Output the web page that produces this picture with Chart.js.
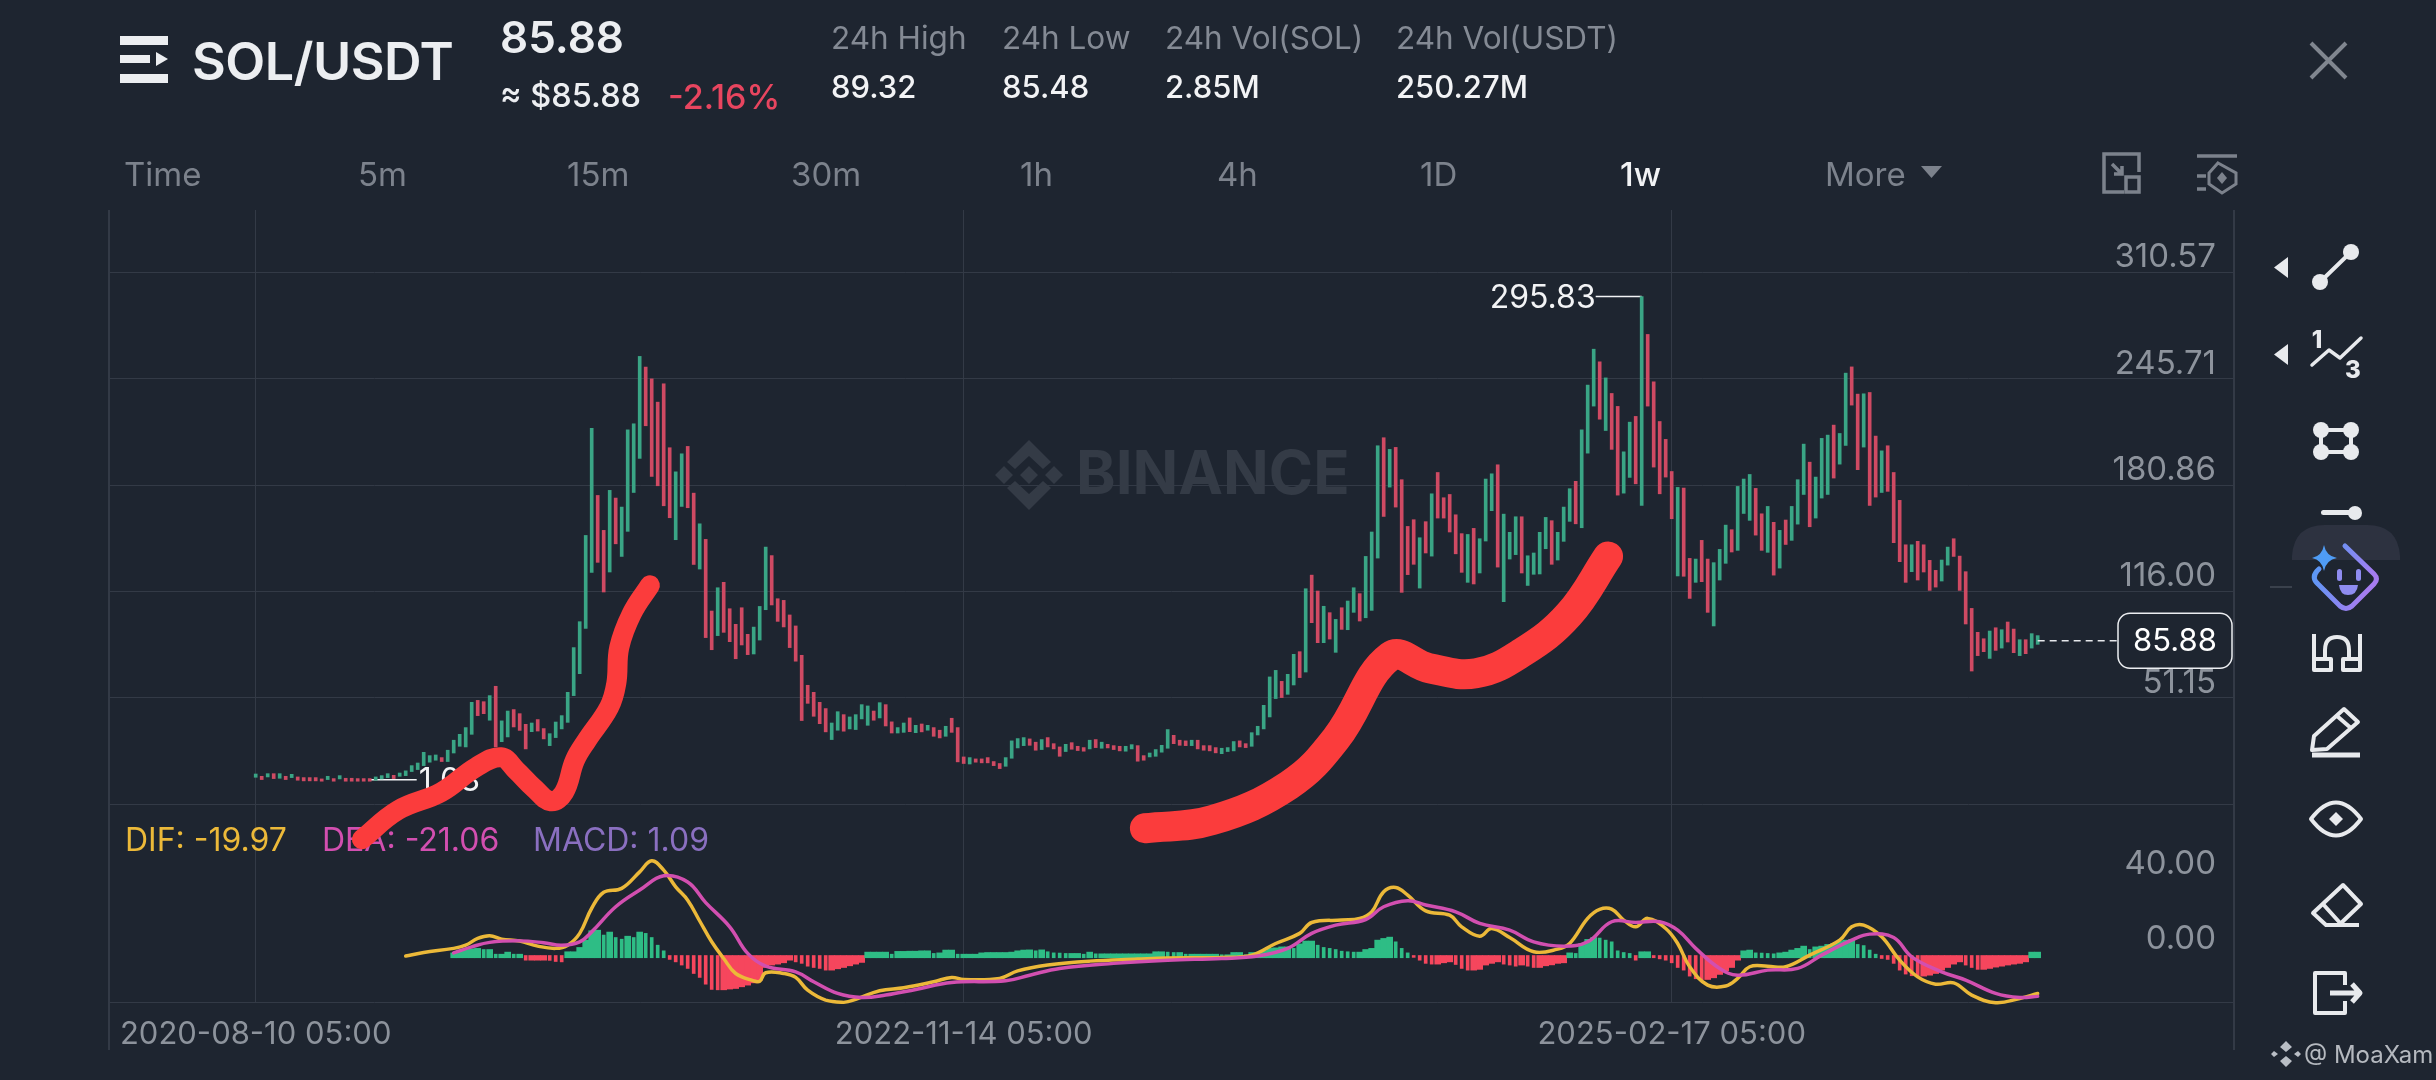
<!DOCTYPE html>
<html>
<head>
<meta charset="utf-8">
<title>SOL/USDT</title>
<script src="https://cdn.jsdelivr.net/npm/chart.js@4/dist/chart.umd.min.js"></script>
<style>
html, body { margin: 0; padding: 0; background: #1e2530; }
#page { position: relative; width: 2436px; height: 1080px; overflow: hidden; background: #1e2530; font-family: Inter, sans-serif; }
#chart { position: absolute; left: 0; top: 0; }
#tools { position: absolute; left: 0; top: 0; }
.t { position: absolute; white-space: nowrap; transform: translateY(-50%); line-height: 1; }
.grey { color: #848a94; font-size: 31.5px; }
.val { color: #f2f3f5; font-size: 31px; font-weight: 500; }
.tab { color: #7c828c; font-size: 33px; top: 174px; }
</style>
</head>
<body>
<div id="page">
  <canvas id="chart" width="2436" height="1080"></canvas>

  <div class="t" style="left:192px;top:62px;font-size:52px;font-weight:600;color:#eceef1;letter-spacing:-0.5px">SOL/USDT</div>
  <div class="t" style="left:500px;top:37px;font-size:44px;font-weight:600;color:#eceef1">85.88</div>
  <div class="t" style="left:500px;top:96px;font-size:32.5px;font-weight:500;color:#eceef1">≈ $85.88</div>
  <div class="t" style="left:668px;top:97px;font-size:34px;font-weight:500;color:#e8455f">-2.16%</div>

  <div class="t grey" style="left:831px;top:38px">24h High</div>
  <div class="t val" style="left:831px;top:86px">89.32</div>
  <div class="t grey" style="left:1002px;top:38px">24h Low</div>
  <div class="t val" style="left:1002px;top:86px">85.48</div>
  <div class="t grey" style="left:1165px;top:38px">24h Vol(SOL)</div>
  <div class="t val" style="left:1165px;top:86px">2.85M</div>
  <div class="t grey" style="left:1396px;top:38px">24h Vol(USDT)</div>
  <div class="t val" style="left:1396px;top:86px">250.27M</div>

  <div class="t tab" style="left:124px">Time</div>
  <div class="t tab" style="left:358px">5m</div>
  <div class="t tab" style="left:567px">15m</div>
  <div class="t tab" style="left:791px">30m</div>
  <div class="t tab" style="left:1020px">1h</div>
  <div class="t tab" style="left:1217px">4h</div>
  <div class="t tab" style="left:1420px">1D</div>
  <div class="t tab" style="left:1620px;color:#f2f3f5;font-weight:500">1w</div>
  <div class="t tab" style="left:1825px">More</div>

  <svg id="tools" width="2436" height="1080" viewBox="0 0 2436 1080" fill="none">
    <!-- header -->
    <g fill="#eceef1">
      <rect x="120" y="36" width="48" height="9"/>
      <rect x="120" y="55" width="30" height="8"/>
      <path d="M156 52 L168 59 L156 66 Z"/>
      <rect x="120" y="74" width="48" height="9"/>
    </g>
    <path d="M2311 43 L2346 78 M2346 43 L2311 78" stroke="#80868f" stroke-width="4"/>
    <path d="M1921 166 H1942 L1931.5 178 Z" fill="#7c828c"/>
    <g stroke="#7c828c" stroke-width="3.5">
      <path d="M2124 192 H2104 V154 H2139 V172"/>
      <rect x="2126" y="177" width="13" height="15"/>
      <path d="M2112 164 L2122 174 M2122 166 V174 H2114"/>
      <path d="M2197 156 H2237"/>
      <path d="M2218 163 L2236 173 V184 L2222 193 L2209 184 V173 Z" stroke-width="3"/>
      <path d="M2197 176 H2206 M2197 189 H2206"/>
    </g>
    <path d="M2222 172 L2227 178 L2222 184 L2217 178 Z" fill="#7c828c"/>

    <!-- drawing toolbar -->
    <g fill="#e8eaed">
      <path d="M2288 257 V278 L2274 267.5 Z"/>
      <path d="M2288 344 V365 L2274 354.5 Z"/>
      <circle cx="2320" cy="282" r="8"/><circle cx="2351" cy="252" r="8"/>
      <circle cx="2321" cy="430" r="8"/><circle cx="2351" cy="430" r="8"/>
      <circle cx="2321" cy="452" r="8"/><circle cx="2351" cy="452" r="8"/>
      <circle cx="2355" cy="513" r="7"/>
      <rect x="2321" y="510" width="34" height="5" rx="2.5"/>
    </g>
    <g stroke="#e8eaed" stroke-width="4" stroke-linecap="round" stroke-linejoin="round">
      <path d="M2320 282 L2351 252"/>
      <path d="M2321 430 H2351 V452 H2321 Z"/>
      <path d="M2312 365 L2329 350 L2340 358 L2361 338" stroke-width="3.5"/>
    </g>
    <text x="2317" y="348" fill="#e8eaed" font-family="Inter" font-size="24" font-weight="800" text-anchor="middle">1</text>
    <text x="2353" y="378" fill="#e8eaed" font-family="Inter" font-size="24" font-weight="800" text-anchor="middle">3</text>

    <path d="M2292 560 V556 Q2294 525 2325 525 H2367 Q2398 525 2400 556 V560 Z" fill="#2d3240"/>
    <path d="M2270 587 H2292" stroke="#3a414c" stroke-width="2"/>
    <defs>
      <linearGradient id="ai" x1="0" y1="0" x2="1" y2="0.4">
        <stop offset="0" stop-color="#4f9cf5"/>
        <stop offset="1" stop-color="#a77cf0"/>
      </linearGradient>
    </defs>
    <path d="M2345 546 L2374 574 Q2379 579 2374 584 L2352 606 Q2346 611 2340 606 L2318 584 Q2311 578 2317 571 L2319 569" stroke="url(#ai)" stroke-width="5" stroke-linecap="round"/>
    <path d="M2324 545 Q2326 556 2337 558 Q2326 560 2324 571 Q2322 560 2312 558 Q2322 556 2324 545 Z" fill="#4f9cf5"/>
    <rect x="2337" y="569" width="5" height="12" rx="2.5" fill="#8f8cf0"/>
    <rect x="2356" y="569" width="5" height="12" rx="2.5" fill="#8f8cf0"/>
    <path d="M2339 585 H2358 Q2357 595 2348 595 Q2340 595 2339 585 Z" fill="#8f8cf0"/>

    <g stroke="#e8eaed" stroke-width="4" stroke-linejoin="round">
      <path d="M2314 634 V670 H2331 V659 H2314 M2360 634 V670 H2343 V659 H2360"/>
      <path d="M2325 659 V650 Q2325 637 2337 637 Q2349 637 2349 650 V659"/>
      <path d="M2344 709 L2358 722 L2327 749 L2312 750 L2314 736 Z"/>
      <path d="M2337 716 L2352 729"/>
      <path d="M2312 755 H2360" stroke-width="5"/>
      <path d="M2311 819 Q2336 786 2361 819 Q2336 852 2311 819 Z"/>
      <path d="M2343 885 L2361 904 L2339 925 H2326 L2313 913 Z"/>
      <path d="M2322 903 L2341 924 M2339 925 H2359"/>
      <path d="M2345 985 V973 H2315 V1013 H2345 V1001"/>
      <path d="M2330 993 H2359 M2352 984 L2360 993 L2352 1002" stroke-width="5"/>
    </g>
    <path d="M2336 812 L2343 819 L2336 826 L2329 819 Z" fill="#e8eaed"/>

    <!-- watermark -->
    <g fill="#b9bec5">
      <path d="M2286 1041 L2292 1047 L2286 1052 L2280 1047 Z M2286 1056 L2292 1061 L2286 1067 L2280 1061 Z M2274 1051 L2278 1054 L2274 1057 L2271 1054 Z M2298 1051 L2301 1054 L2298 1057 L2294 1054 Z"/>
    </g>
    <text x="2304" y="1063" fill="#b5b9bf" font-family="Inter" font-size="24">@ MoaXam</text>
  </svg>
</div>

<script>
// weekly SOL/USDT, one entry per bar, first bar is 2020-08-10
const opens = [
  2.6,3.2,2.8,4.8,2.0,3.2,2.4,2.8,2.4,2.4,
  2.4,1.6,1.2,1.8,1.6,2.0,2.0,1.8,1.8,1.8,
  0.8,1.6,2.4,3.8,3.2,3.6,6.1,7.3,9.7,11.8,
  13.0,14.6,12.2,17.4,21.5,21.1,28.8,49.5,48.7,37.4,
  58.1,24.3,27.2,43.9,41.4,34.9,30.4,37.8,32.3,21.9,
  26.8,32.1,36.1,52.4,65.8,93.4,127.6,174.5,153.2,127.8,
  172.9,137.3,152.6,176.3,197.1,252.8,245.6,231.4,242.6,203.6,
  147.5,167.8,204.4,175.9,129.6,147.7,104.0,89.0,121.5,105.4,
  95.9,106.0,89.8,77.8,86.3,104.8,137.8,111.5,110.5,101.6,
  94.9,77.0,58.7,54.4,48.3,44.5,25.6,31.3,40.8,32.1,
  31.7,38.2,34.3,43.0,38.8,46.9,36.4,29.6,30.0,38.8,
  29.8,35.1,31.3,32.9,31.3,27.6,38.6,32.9,15.0,10.7,
  13.8,13.8,14.6,12.2,11.0,9.3,14.2,20.5,21.9,26.0,
  24.0,19.5,26.8,23.1,21.1,18.3,23.7,21.5,20.7,19.9,
  25.6,20.3,22.7,21.9,21.5,18.5,19.9,21.9,15.8,15.0,
  15.4,17.9,20.3,28.2,25.2,24.8,21.9,25.2,21.9,21.9,
  20.7,17.0,18.3,18.7,24.8,23.1,21.5,28.4,32.1,39.4,
  50.6,61.1,53.2,58.9,79.2,66.8,125.9,116.2,84.7,103.0,
  78.8,106.0,92.6,103.2,114.6,99.9,104.4,136.3,209.7,179.6,
  203.8,184.1,155.6,159.7,118.0,158.5,137.5,188.5,173.1,175.1,
  162.7,151.2,121.5,154.4,127.2,146.7,165.2,193.2,109.7,135.7,
  138.4,161.5,119.6,126.4,126.6,142.0,159.1,135.1,146.5,158.7,
  183.1,154.8,200.3,229.0,256.0,214.1,236.7,228.8,175.9,185.5,
  222.7,168.4,272.7,243.8,219.6,208.7,189.1,125.4,179.0,136.1,
  121.5,147.1,135.7,94.9,122.9,133.1,153.6,141.0,163.5,159.3,
  178.8,163.3,139.8,158.1,130.2,159.5,147.1,157.0,175.1,194.8,
  160.7,172.9,175.1,217.4,193.6,205.0,252.9,236.3,204.0,237.3,
  210.7,176.3,204.8,188.5,171.5,144.4,128.0,146.5,144.4,134.9,
  128.8,122.3,132.0,148.1,137.5,128.0,105.6,91.0,87.1,75.1,
  93.8,81.4,97.3,93.0,76.8,86.5,81.4,83.7
];
const closes = [
  4.6,1.2,4.8,1.8,4.8,1.2,4.4,0.8,0.4,0.4,
  0.4,0.2,3.2,0.2,3.6,0.2,0.2,0.2,0.2,0.2,
  2.8,3.6,4.8,1.8,5.2,6.5,9.7,11.3,17.8,15.8,
  16.2,12.2,19.1,25.2,28.8,32.9,48.3,40.2,41.4,52.4,
  21.1,37.0,43.0,33.3,31.2,19.9,35.7,30.8,26.0,29.2,
  36.3,40.2,54.4,81.7,97.5,150.1,215.4,133.7,115.6,177.6,
  145.0,167.4,214.5,218.2,259.3,217.0,186.1,180.4,168.2,160.9,
  188.9,199.9,167.0,132.4,157.2,87.8,80.4,118.2,91.0,85.3,
  74.9,83.3,77.4,94.2,106.8,143.0,107.7,97.7,94.3,81.7,
  73.4,37.2,47.7,39.8,35.3,30.3,35.7,42.6,30.7,39.4,
  40.8,46.9,46.1,37.4,48.1,33.9,29.6,32.9,35.7,30.4,
  34.3,30.3,34.3,27.6,26.6,33.7,30.0,12.0,11.0,14.6,
  11.8,11.4,11.4,9.7,7.9,14.6,24.8,26.2,26.8,22.1,
  19.1,25.6,21.1,19.9,15.4,22.7,19.7,18.9,18.5,25.2,
  20.7,24.0,20.5,19.5,18.7,21.5,22.5,12.4,13.0,17.4,
  19.5,22.1,31.7,23.1,22.1,21.9,25.2,19.9,19.1,18.7,
  17.5,20.3,20.7,24.4,21.1,20.7,29.8,33.7,46.5,63.8,
  67.8,51.2,65.4,77.6,63.4,117.6,96.9,84.7,106.9,86.9,
  98.9,92.8,110.1,118.2,97.9,137.3,152.2,204.8,161.7,202.6,
  167.4,115.4,126.2,132.5,148.7,139.4,175.5,160.7,160.7,152.2,
  138.9,127.6,150.7,120.5,148.1,184.5,187.7,130.8,163.1,152.0,
  161.5,127.2,137.7,139.4,152.0,161.1,132.5,152.0,167.4,178.6,
  157.2,214.5,241.8,263.7,221.0,246.2,202.6,174.7,201.1,219.2,
  181.6,295.83,229.0,191.8,175.5,185.7,160.3,179.4,125.2,111.7,
  135.7,121.9,103.2,133.5,141.6,156.4,140.0,180.0,184.5,187.3,
  150.3,141.0,167.8,125.9,153.2,144.6,167.8,184.1,205.8,155.4,
  185.7,209.3,211.3,185.1,212.3,249.1,229.6,190.2,236.5,168.4,
  173.5,201.7,177.0,145.7,134.1,121.5,144.4,122.9,127.8,116.6,
  118.6,135.1,143.0,137.3,116.6,96.1,67.4,76.8,79.2,91.8,
  80.0,92.6,85.1,78.6,86.5,78.0,90.2,89.0
];

// MACD histogram, starts at bar 33
const macdStart = 33;
const macdHist = [
  1.2,2.7,3.0,3.4,3.6,3.0,3.0,
  .5,.5,1.6,.5,.5,-2.7,-2.7,-2.7,-2.7,-2.8,-3.4,-3.6,
  1.8,1.8,4.1,8.0,13.0,13.3,10.7,12.3,9.4,8.5,10.1,9.4,12.3,11.6,9.4,5.3,2.3,
  -2.3,-3.6,-5.3,-7.1,-9.8,-11.9,-15.5,-18.3,-18.5,-18.5,-18.1,-17.8,-16.9,-16.0,-14.8,-13.3,-6.6,-5.3,-4.8,-4.1,-2.7,
  -3.6,-4.4,-5.9,-6.6,-7.1,-8.0,-8.0,-7.3,-6.6,-5.7,-4.8,-3.9,
  1.6,1.6,1.6,1.6,.5,2.0,2.0,2.1,2.1,2.3,2.3,.9,1.2,2.7,2.7,.5,.5,.5,.5,1.2,1.4,1.4,1.4,1.4,1.6,2.3,2.7,2.8,2.3,2.8,1.8,1.2,1.1,.9,.9,.9,.5,1.6,
  .7,.7,.7,.7,.7,.7,.7,.7,.7,.7,1.8,1.8,1.6,1.4,1.4,.5,.5,.5,.5,.5,.5,.2,.2,1.4,1.4,.2,1.4,1.4,2.3,3.6,3.9,4.4,4.4,3.6,6.0,7.5,7.5,5.3,4.1,3.6,3.0,2.1,1.8,1.6,1.6,3.0,3.6,8.0,8.9,9.6,7.1,3.6,1.2,
  -1.2,-2.7,-4.4,-4.8,-4.8,-4.1,-3.6,-5.0,-7.1,-8.0,-8.0,-7.6,-5.3,-4.4,-3.6,-4.8,-5.3,-5.9,-5.3,-5.9,-6.6,-6.6,-5.7,-5.2,-4.4,-4.1,
  1.2,.9,6.2,8.4,9.4,9.1,8.0,7.1,2.3,1.4,.9,-2.7,1.8,1.8,
  -1.4,-2.0,-2.7,-4.1,-6.6,-8.0,-11.2,-12.6,-13.3,-13.0,-12.1,-10.3,-8.4,-6.6,-2.7,
  2.3,2.7,1.2,1.1,.9,.7,1.2,1.6,2.7,3.6,4.8,3.0,4.4,4.8,5.7,6.2,7.3,8.0,8.4,5.7,5.1,2.7,.5,
  -1.8,-2.3,-4.4,-8.0,-10.1,-11.0,-11.2,-11.2,-10.7,-9.8,-8.0,-6.6,-4.8,-3.6,-5.3,-6.6,-7.6,-7.6,-7.1,-6.4,-5.9,-5.3,-4.8,-4.4,-3.6,
  1.6,1.6
];

// DIF and DEA, read at the bends of each curve
const difBars = [25,28,33,35,37,39,41,44,47,50,52,54,56,58,61,64,66,68,70,72,74,76,78,80,83,84,85,88,90,92,95,98,100,104,108,113,116,118,124,127,132,139,147,152,161,166,170,174,176,181,184,186,188,190,192,195,199,201,204,206,209,213,217,219,222,224,226,228,230,232,235,237,239,242,245,247,249,252,255,259,264,266,268,271,274,277,280,283,286,290,294,297];
const difVals = [-.5,1.4,3.6,5.3,8.9,10.3,8.5,7.5,4.8,3.6,5.3,11.6,25.0,33.5,35.6,44.4,50.3,45.3,36.4,29.3,18.2,7.1,-1.8,-9.8,-13.7,-13.9,-9.4,-9.8,-11.9,-18.7,-24,-25.2,-23.6,-19,-17.4,-14.2,-11.9,-13,-12.4,-8.4,-5.3,-3.2,-2.1,-1.5,-1.2,0,6.2,11.6,17.4,18.7,19.6,23.1,33.8,36.1,32,23.6,21.3,15.1,10.1,14.2,9.4,1.8,3.2,6.2,19.6,24.4,24.5,18.7,15.1,19.6,14.2,6.2,-6.2,-16,-16.5,-12.4,-6.2,-5.9,-6.2,0,8,15.1,16,9.8,-2.7,-11.6,-15.5,-14.8,-21.3,-25.4,-23.1,-20.5];
const deaBars = [33,36,39,44,48,51,54,56,60,64,68,72,75,79,82,85,90,93,97,101,105,110,116,125,129,134,143,152,161,167,172,176,180,185,188,192,195,200,204,209,213,218,222,226,230,234,237,240,244,247,252,257,261,266,269,273,276,281,285,290,294,297];
const deaVals = [1.2,4.4,6.8,7.6,6.6,5.3,7.1,12.4,25.8,34.7,42.3,39,28,15.1,.9,-5.9,-8.9,-14.2,-20.4,-22.6,-21.3,-18.3,-14.6,-13.7,-10.7,-7.1,-4.4,-2.7,-1.8,-.5,3.6,11.6,16,19,25.8,29,26.7,23.1,16.9,13.3,7.1,4.8,7.1,17.8,17.4,17.8,13.3,3.6,-7.1,-10.7,-8,-7.1,0,8,11.2,9.4,-.9,-8.9,-13.3,-20.4,-22.6,-22];

// the two red strokes someone painted over the screenshot, in bar / price terms
const stroke1Bars = [17.7,23.7,30.9,36.7,40.9,43.4,46.4,49.2,51.4,53.2,55.2,58.9,60.1,60.6,62.7,65.7];
const stroke1Vals = [-35.2,-17.5,-6.5,8.7,14.8,6.9,-4.1,-12,-6.5,13,25.2,45.3,59.9,81.9,102.6,119.7];
const stroke2Bars = [148.2,159.4,172.2,180.1,189.1,195.6,203.4,211.1,218.9,225.4];
const stroke2Vals = [-28.5,-23.6,-2.2,26.4,76.4,69.1,66,78.8,102,137.3];

// tick labels
const priceTicks = [310.57, 245.71, 180.86, 116.00, 51.15];
const priceFloor = -13.7;
const macdTicks = [40, 0];
const macdFloor = -25;
const axisBars = [0, 118, 236];
const axisDates = ['2020-08-10 05:00', '2022-11-14 05:00', '2025-02-17 05:00'];

const lastPrice = 85.88;
const highBar = 231, highPrice = 295.83;
const lowBar = 19, lowPrice = 1.03;

const BG = '#1e2530';
const GRID = '#333a46';
const TICK = '#8d939c';
const GREEN = '#3aa585';
const RED = '#cf4a63';
const HIST_GREEN = '#2ebd85';
const HIST_RED = '#f6465d';
const DIF_COLOR = '#ecb939';
const DEA_COLOR = '#d24fb0';
const MACD_COLOR = '#8a6fc0';
const STROKE_RED = '#fb3c3c';

Chart.defaults.font.family = 'Inter';
Chart.defaults.font.size = 30;

const toPoints = (xs, ys) => xs.map((x, i) => ({ x: x, y: ys[i] }));

// a hist bar is filled when it rises from the previous one, a thin stripe when it falls
const histPoints = macdHist.map((v, i) => {
   const base = v > 0 ? -1.4 : -0.2;
   return { x: macdStart + i, y: [base, v], solid: i === 0 || v >= macdHist[i - 1] };
});
const histDataset = (solid, thickness) => {
   const data = histPoints.filter(p => p.solid === solid);
   return {
      xAxisID: 'x',
      yAxisID: 'yMacd',
      grouped: false,
      barThickness: thickness,
      data: data,
      backgroundColor: data.map(p => p.y[1] > 0 ? HIST_GREEN : HIST_RED),
      order: 5,
   };
};
const lineDataset = (xs, ys, color, width, yAxis, order) => ({
   type: 'line',
   xAxisID: 'x',
   yAxisID: yAxis,
   data: toPoints(xs, ys),
   borderColor: color,
   borderWidth: width,
   pointRadius: 0,
   tension: 0.4,
   borderCapStyle: 'round',
   borderJoinStyle: 'round',
   clip: false,
   order: order,
});

const overlayPlugin = {
   id: 'overlay',
   beforeDatasetsDraw(chart) {
      const ctx = chart.ctx;
      const x = chart.scales.x;
      const y = chart.scales.yPrice;
      ctx.save();

      // frame
      ctx.strokeStyle = GRID;
      ctx.lineWidth = 2;
      ctx.beginPath();
      ctx.moveTo(109, 210); ctx.lineTo(109, 1050);
      ctx.moveTo(2234, 210); ctx.lineTo(2234, 1050);
      ctx.stroke();

      // BINANCE watermark
      ctx.fillStyle = '#343b46';
      ctx.font = '700 60px Inter';
      ctx.textBaseline = 'middle';
      ctx.textAlign = 'left';
      ctx.fillText('BINANCE', 1076, 476);
      const cx = 1029, cy = 475;
      ctx.beginPath();
      [[0, 0], [-25, 0], [25, 0]].forEach(d => {
         ctx.moveTo(cx + d[0], cy - 9);
         ctx.lineTo(cx + d[0] + 9, cy);
         ctx.lineTo(cx + d[0], cy + 9);
         ctx.lineTo(cx + d[0] - 9, cy);
         ctx.closePath();
      });
      [-1, 1].forEach(s => {
         ctx.moveTo(cx, cy + s * 35);
         ctx.lineTo(cx + 22, cy + s * 13);
         ctx.lineTo(cx + 14, cy + s * 6);
         ctx.lineTo(cx, cy + s * 19);
         ctx.lineTo(cx - 14, cy + s * 6);
         ctx.lineTo(cx - 22, cy + s * 13);
         ctx.closePath();
      });
      ctx.fill();

      // MACD legend
      ctx.font = '32px Inter';
      ctx.fillStyle = DIF_COLOR;
      ctx.fillText('DIF: -19.97', 125, 841);
      ctx.fillStyle = DEA_COLOR;
      ctx.fillText('DEA: -21.06', 322, 841);
      ctx.fillStyle = MACD_COLOR;
      ctx.fillText('MACD: 1.09', 533, 841);

      // high and low markers
      ctx.strokeStyle = '#f2f3f5';
      ctx.fillStyle = '#f2f3f5';
      ctx.lineWidth = 1.5;
      ctx.font = '32px Inter';
      const hx = x.getPixelForValue(highBar);
      const hy = y.getPixelForValue(highPrice);
      ctx.beginPath();
      ctx.moveTo(hx, hy); ctx.lineTo(hx - 46, hy);
      ctx.stroke();
      ctx.textAlign = 'right';
      ctx.fillText(highPrice.toFixed(2), hx - 46, hy + 2);
      const lx = x.getPixelForValue(lowBar);
      const ly = y.getPixelForValue(lowPrice);
      ctx.beginPath();
      ctx.moveTo(lx, ly); ctx.lineTo(lx + 47, ly);
      ctx.stroke();
      ctx.textAlign = 'left';
      ctx.fillText(lowPrice.toFixed(2), lx + 49, ly + 2);
      ctx.restore();
   },
   afterDatasetsDraw(chart) {
      const ctx = chart.ctx;
      const x = chart.scales.x;
      const y = chart.scales.yPrice;
      const py = y.getPixelForValue(lastPrice);
      ctx.save();
      ctx.strokeStyle = '#e6e8eb';
      ctx.lineWidth = 1.5;
      ctx.setLineDash([7, 5]);
      ctx.beginPath();
      ctx.moveTo(x.getPixelForValue(opens.length - 1), py);
      ctx.lineTo(2118, py);
      ctx.stroke();
      ctx.setLineDash([]);
      ctx.fillStyle = BG;
      ctx.strokeStyle = '#eceef1';
      ctx.lineWidth = 1.5;
      ctx.beginPath();
      ctx.roundRect(2118, py - 27.5, 114, 55, 12);
      ctx.fill();
      ctx.stroke();
      ctx.fillStyle = '#ffffff';
      ctx.font = '31px Inter';
      ctx.textAlign = 'center';
      ctx.textBaseline = 'middle';
      ctx.fillText(lastPrice.toFixed(2), 2175, py + 1);
      ctx.restore();
   },
};

const setTicks = values => scale => {
   scale.ticks = values.map(v => ({ value: v }));
};
const noWidth = scale => { scale.width = 0; };

new Chart(document.getElementById('chart').getContext('2d'), {
   type: 'bar',
   data: {
      datasets: [
         {
            xAxisID: 'x',
            yAxisID: 'yPrice',
            grouped: false,
            barThickness: 3,
            data: opens.map((o, i) => ({ x: i, y: [o, closes[i]] })),
            backgroundColor: opens.map((o, i) => closes[i] >= o ? GREEN : RED),
            order: 6,
         },
         histDataset(true, 6),
         histDataset(false, 3),
         lineDataset(difBars, difVals, DIF_COLOR, 3.5, 'yMacd', 4),
         lineDataset(deaBars, deaVals, DEA_COLOR, 3.5, 'yMacd', 3),
         lineDataset(stroke1Bars, stroke1Vals, STROKE_RED, 20, 'yPrice', 1),
         lineDataset(stroke2Bars, stroke2Vals, STROKE_RED, 30, 'yPrice', 1),
      ],
   },
   options: {
      responsive: false,
      devicePixelRatio: 1,
      animation: false,
      events: [],
      layout: { padding: { left: 109, right: 202, top: 210, bottom: 0 } },
      plugins: { legend: { display: false }, tooltip: { enabled: false } },
      scales: {
         x: {
            type: 'linear',
            offset: false,
            min: -24.45,
            max: 329.72,
            position: 'bottom',
            border: { display: false },
            grid: { offset: false, color: GRID, lineWidth: 1, drawTicks: false },
            afterBuildTicks: setTicks(axisBars),
            afterFit: scale => { scale.height = 78; },
            ticks: {
               autoSkip: false,
               maxRotation: 0,
               padding: 14,
               color: TICK,
               font: { size: 31 },
               callback: value => axisDates[axisBars.indexOf(value)],
            },
         },
         yPrice: {
            type: 'linear',
            position: 'right',
            stack: 'panes',
            stackWeight: 3,
            min: priceFloor,
            max: 348.6,
            border: { display: false },
            grid: { color: GRID, lineWidth: 1, drawTicks: false },
            afterBuildTicks: setTicks(priceTicks.concat([priceFloor])),
            afterFit: noWidth,
            ticks: {
               mirror: true,
               padding: -18,
               labelOffset: -15,
               color: TICK,
               font: { size: 33 },
               callback: value => value === priceFloor ? '' : value.toFixed(2),
            },
         },
         yMacd: {
            type: 'linear',
            position: 'right',
            stack: 'panes',
            stackWeight: 1,
            min: macdFloor,
            max: 80.6,
            border: { display: false },
            grid: {
               drawTicks: false,
               lineWidth: 1,
               color: ctx => ctx.tick && ctx.tick.value === macdFloor ? GRID : 'transparent',
            },
            afterBuildTicks: setTicks(macdTicks.concat([macdFloor])),
            afterFit: noWidth,
            ticks: {
               mirror: true,
               padding: -18,
               labelOffset: -16,
               color: TICK,
               font: { size: 33 },
               callback: value => value === macdFloor ? '' : value.toFixed(2),
            },
         },
      },
   },
   plugins: [overlayPlugin],
});
</script>
</body>
</html>
